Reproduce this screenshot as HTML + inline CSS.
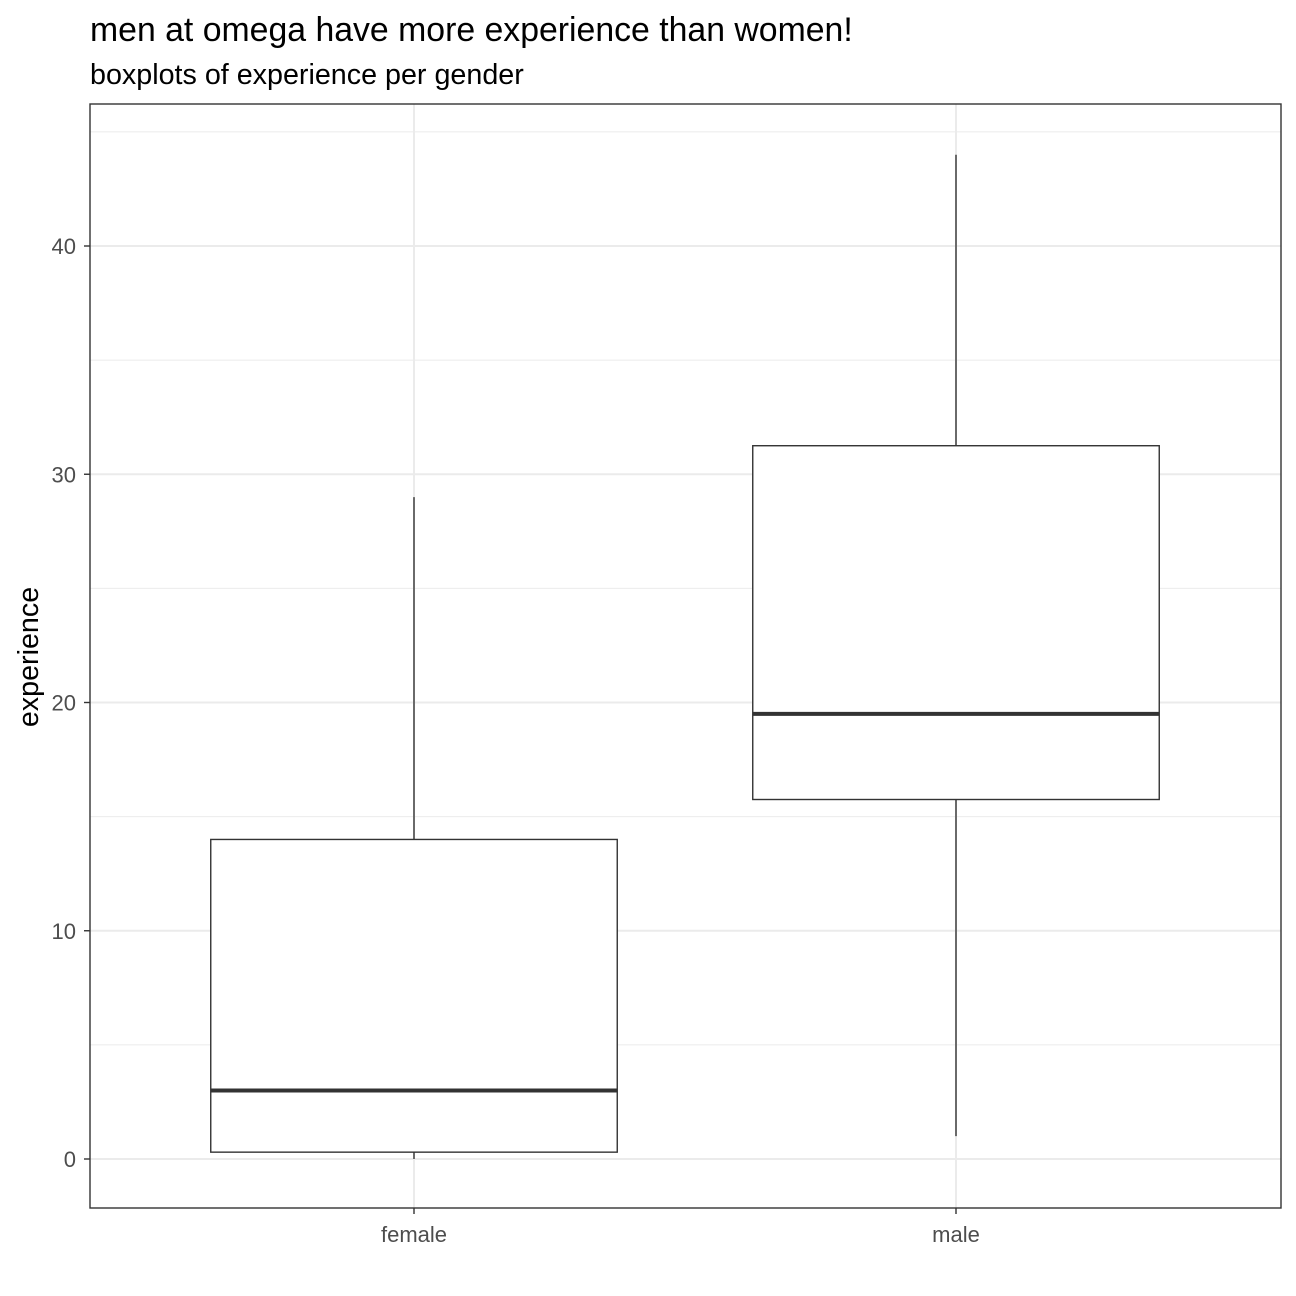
<!DOCTYPE html>
<html><head><meta charset="utf-8"><style>
html,body{margin:0;padding:0;background:#fff;}
svg{display:block;font-family:"Liberation Sans",Arial,sans-serif;}
</style></head><body>
<svg id="chart" width="1296" height="1296">
<text x="90" y="41" font-size="33.8" fill="#000">men at omega have more experience than women!</text>
<text x="90" y="84" font-size="28.7" fill="#000">boxplots of experience per gender</text>
<rect x="90" y="104" width="1191" height="1104" fill="#fff"/>
<g id="grid"></g>
<g id="marks"></g>
<rect x="90" y="104" width="1191" height="1104" fill="none" stroke="#333" stroke-width="1.4"/>
<g id="axes"></g>
<text transform="translate(38,657) rotate(-90)" text-anchor="middle" font-size="28.7" fill="#000">experience</text>
</svg>
<script>
const categories = ["female","male"];
const lowerWhisker = [0, 1];
const q1 = [0.3, 15.75];
const median = [3, 19.5];
const q3 = [14, 31.25];
const upperWhisker = [29, 44];
const yTicks = [0,10,20,30,40];
const yMinorTicks = [5,15,25,35,45];

const NS="http://www.w3.org/2000/svg";
function y(v){return 1159 - v*22.825;}
function x(i){return 414 + i*542;}
const bandW=542, boxW=bandW*0.75;
function mk(tag,attrs,parent){const e=document.createElementNS(NS,tag);for(const k in attrs)e.setAttribute(k,attrs[k]);parent.appendChild(e);return e;}
const grid=document.getElementById('grid'), marks=document.getElementById('marks'), axes=document.getElementById('axes');
yMinorTicks.forEach(t=>{const l=mk('line',{x1:90,x2:1281,y1:y(t),y2:y(t),stroke:'#ebebeb','stroke-width':1},grid);

});
yTicks.forEach(t=>{const l=mk('line',{x1:90,x2:1281,y1:y(t),y2:y(t),stroke:'#ebebeb','stroke-width':2},grid);


const tk=mk('line',{x1:84,x2:90,y1:y(t),y2:y(t),stroke:'#333','stroke-width':1.4},axes);


const tx=mk('text',{x:76,y:y(t)+8,'text-anchor':'end','font-size':22,fill:'#4d4d4d'},axes);tx.textContent=t;

});
categories.forEach((c,i)=>{
const cx=x(i);
const g=mk('line',{x1:cx,x2:cx,y1:104,y2:1208,stroke:'#ebebeb','stroke-width':2},grid);


const w1=mk('line',{x1:cx,x2:cx,y1:y(upperWhisker[i]),y2:y(q3[i]),stroke:'#333','stroke-width':1.4},marks);


const w2=mk('line',{x1:cx,x2:cx,y1:y(q1[i]),y2:y(lowerWhisker[i]),stroke:'#333','stroke-width':1.4},marks);


const b=mk('rect',{x:cx-boxW/2,y:y(q3[i]),width:boxW,height:y(q1[i])-y(q3[i]),fill:'#fff',stroke:'#333','stroke-width':1.4},marks);


const m=mk('line',{x1:cx-boxW/2,x2:cx+boxW/2,y1:y(median[i]),y2:y(median[i]),stroke:'#333','stroke-width':4},marks);


const tk=mk('line',{x1:cx,x2:cx,y1:1208,y2:1214,stroke:'#333','stroke-width':1.4},axes);


const tx=mk('text',{x:cx,y:1242,'text-anchor':'middle','font-size':22,fill:'#4d4d4d'},axes);tx.textContent=c;


});
</script>
</body></html>
